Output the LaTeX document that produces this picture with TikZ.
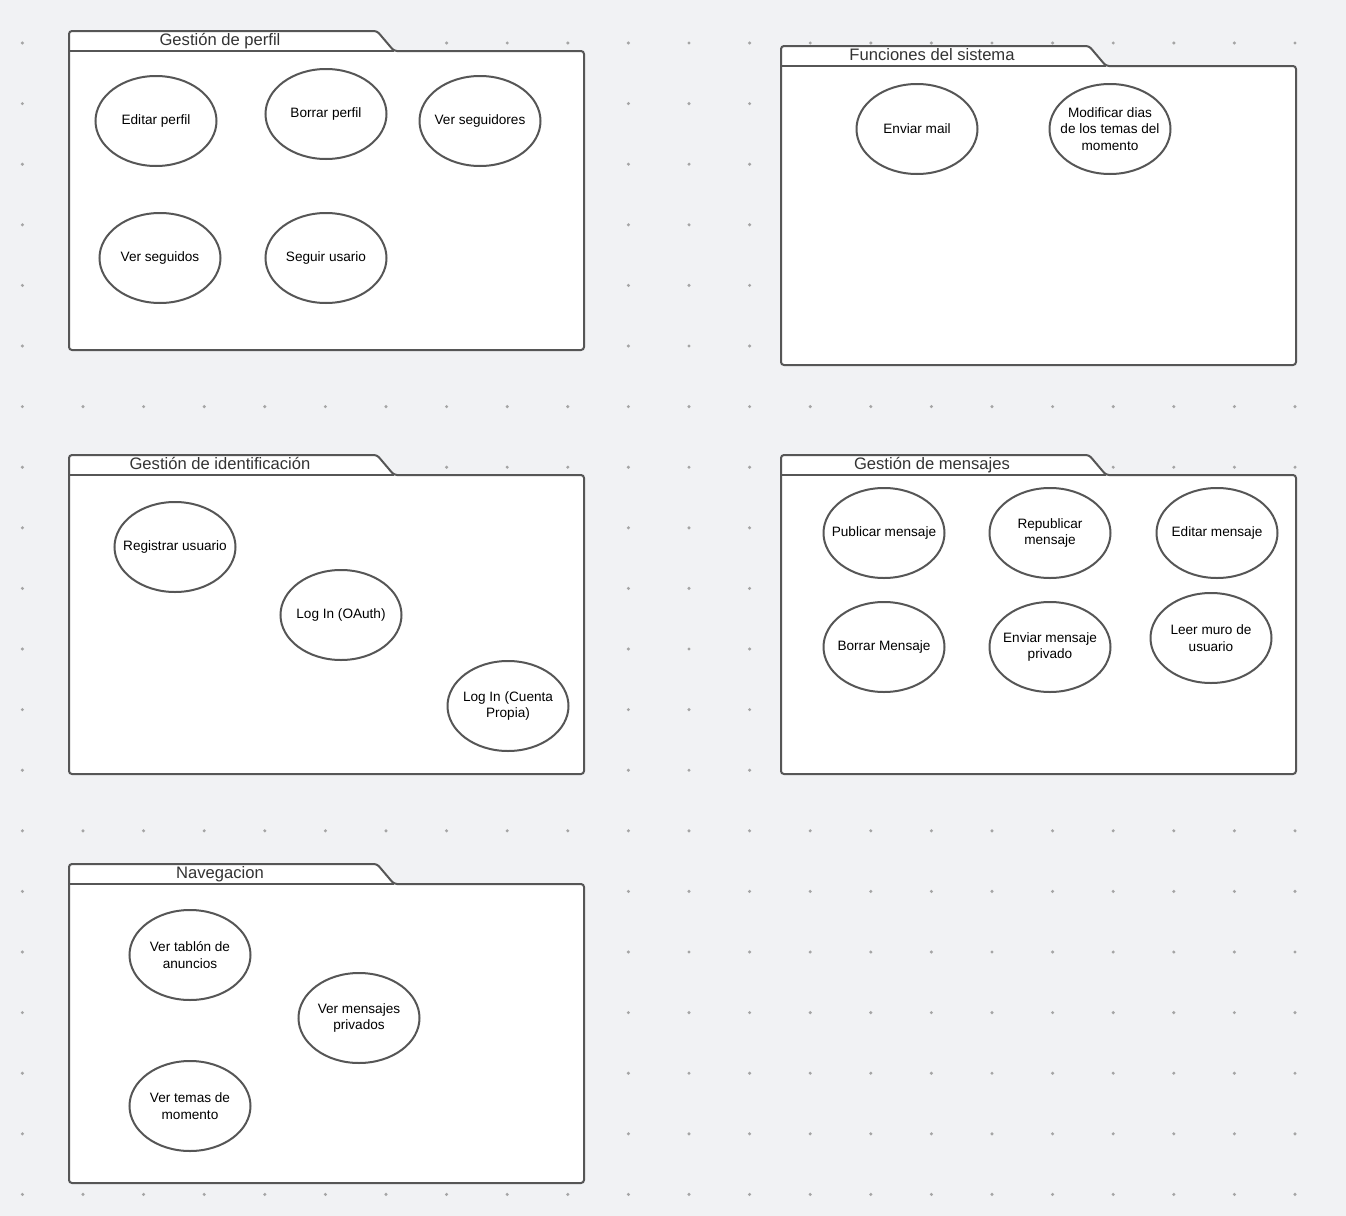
\documentclass[tikz,border=0pt]{standalone}
\usepackage{fontspec}
\setmainfont{Liberation Sans}
\usepackage{tikz}
\usetikzlibrary{
    shapes.geometric,
    positioning
}
\definecolor{bggray}{HTML}{F1F2F4}
\definecolor{dotgray}{HTML}{A5A5A5}
\definecolor{linegray}{HTML}{565656}
\definecolor{titlegray}{HTML}{333333}
\tikzset{
    % Package styles
    folder line/.style={
        draw=linegray,
        line width=1pt,
        rounded corners=1.5pt
    },
    folder title/.style={
        anchor=base,
        inner sep=0pt,
        text=titlegray,
        font=\fontsize{8.3}{10}\selectfont
    },
    % Use case styles
    use case/.style={
        ellipse,
        draw=linegray,
        line width=1pt,
        fill=white,
        minimum width=60.5pt,
        minimum height=45pt,
        inner xsep=-12pt,
        inner ysep=0pt,
        align=center,
        text=black,
        font=\fontsize{6.8}{8.2}\selectfont
    },
    grid dot/.style={
        fill=dotgray
    }
}

\begin{document}
\begin{tikzpicture}[x=0.5pt, y=-0.5pt]

    \fill[bggray] (0,0) rectangle (1346,1216);
    \useasboundingbox (0,0) rectangle (1346,1216);

    % dotted grid
    \foreach \i in {0,...,21}
        \foreach \j in {0,...,19}
            \fill[grid dot] (22.4+60.6*\i, 43+60.6*\j) circle (0.85pt);

    % packages
    \foreach \fx/\fy/\fname/\ftitle in {
            69/31/perfil/Gestión de perfil,
            781/46/sistema/Funciones del sistema,
            69/455/ident/Gestión de identificación,
            781/455/mensajes/Gestión de mensajes,
            69/864/nav/Navegacion}{
        \draw[folder line, fill=white]
            (\fx,\fy+20) -- (\fx,\fy) -- (\fx+308,\fy) -- (\fx+325,\fy+20)
            -- (\fx+515,\fy+20) -- (\fx+515,\fy+319) -- (\fx,\fy+319) -- cycle;
        \draw[folder line] (\fx,\fy+20) -- (\fx+325,\fy+20);
        \node[folder title] (title-\fname) at (\fx+151,\fy+14) {\ftitle};
    }

    % Gestión de perfil
    \node[use case] (editar-perfil) at (156,121) {Editar perfil};
    \node[use case] (borrar-perfil) at (326,114) {Borrar perfil};
    \node[use case] (ver-seguidores) at (480,121) {Ver seguidores};
    \node[use case] (ver-seguidos) at (160,258) {Ver seguidos};
    \node[use case] (seguir-usario) at (326,258) {Seguir usario};

    % Funciones del sistema
    \node[use case] (enviar-mail) at (917,129) {Enviar mail};
    \node[use case] (modificar-dias) at (1110,129) {Modificar dias\\de los temas del\\momento};

    % Gestión de identificación
    \node[use case] (registrar) at (175,547) {Registrar usuario};
    \node[use case] (login-oauth) at (341,615) {Log In (OAuth)};
    \node[use case] (login-propia) at (508,706) {Log In (Cuenta\\Propia)};

    % Gestión de mensajes
    \node[use case] (publicar) at (884,533) {Publicar mensaje};
    \node[use case] (republicar) at (1050,533) {Republicar\\mensaje};
    \node[use case] (editar-msg) at (1217,533) {Editar mensaje};
    \node[use case] (borrar-msg) at (884,647) {Borrar Mensaje};
    \node[use case] (enviar-privado) at (1050,647) {Enviar mensaje\\privado};
    \node[use case] (leer-muro) at (1211,638) {Leer muro de\\usuario};

    % Navegacion
    \node[use case] (ver-tablon) at (190,955) {Ver tablón de\\anuncios};
    \node[use case] (ver-privados) at (359,1018) {Ver mensajes\\privados};
    \node[use case] (ver-temas) at (190,1106) {Ver temas de\\momento};

\end{tikzpicture}
\end{document}
